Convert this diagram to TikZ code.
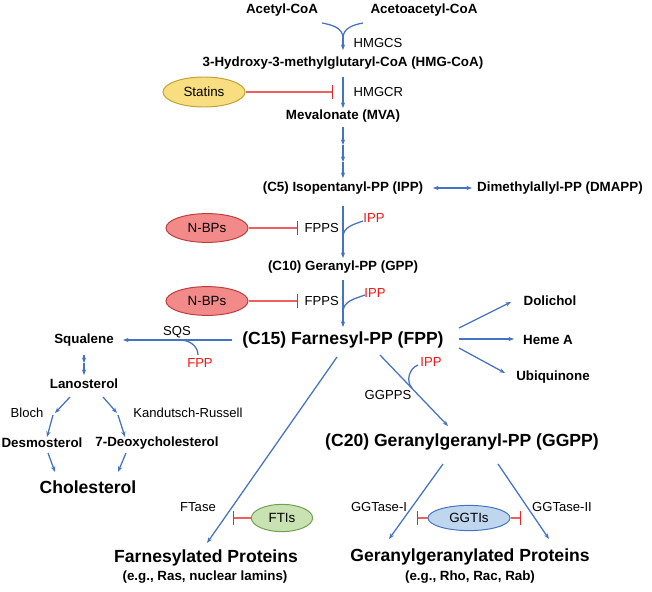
\documentclass[tikz,border=0pt]{standalone}
\usepackage{fontspec}
\setmainfont{Liberation Sans}
\usepackage{xcolor}
\usetikzlibrary{shapes.geometric}
\usetikzlibrary{positioning}
\usetikzlibrary{arrows.meta,calc}

\definecolor{flowblue}{RGB}{68,114,196}
\definecolor{inhred}{RGB}{238,96,96}
\definecolor{barred}{RGB}{232,40,40}
\definecolor{ippred}{RGB}{250,20,20}
\definecolor{statinfill}{RGB}{248,222,128}
\definecolor{statinline}{RGB}{196,160,50}
\definecolor{nbpfill}{RGB}{242,138,138}
\definecolor{nbpline}{RGB}{192,60,60}
\definecolor{ftifill}{RGB}{200,226,178}
\definecolor{ftiline}{RGB}{110,160,80}
\definecolor{ggtifill}{RGB}{190,215,238}
\definecolor{ggtiline}{RGB}{70,114,196}

\begin{document}
\begin{tikzpicture}[x=0.025cm,y=0.025cm,
    met/.style={font=\bfseries\fontsize{9.5}{11}\selectfont,inner sep=1pt},
    big/.style={font=\bfseries\fontsize{12.5}{15}\selectfont,inner sep=1pt},
    enzyme/.style={font=\fontsize{9.3}{11}\selectfont,inner sep=1pt},
    cofactor/.style={enzyme,text=ippred},
    drug/.style={ellipse,draw,inner sep=0pt,line width=0.7pt,font=\fontsize{9.5}{11}\selectfont},
    statin/.style={drug,fill=statinfill,draw=statinline,minimum width=2.05cm,minimum height=0.75cm},
    nbp/.style={drug,fill=nbpfill,draw=nbpline,minimum width=2.05cm,minimum height=0.72cm},
    fti/.style={drug,fill=ftifill,draw=ftiline,minimum width=1.53cm,minimum height=0.68cm},
    ggti/.style={drug,fill=ggtifill,draw=ggtiline,minimum width=2.05cm,minimum height=0.63cm},
    flow/.style={draw=flowblue,line width=0.9pt,-{Stealth[length=4pt,width=3pt]}},
    blueline/.style={draw=flowblue,line width=0.9pt},
    inhibit/.style={draw=inhred,line width=0.9pt,-{Bar[width=10pt,line width=0.9pt,color=barred]}},
]
\useasboundingbox (0,0) rectangle (652,-592);

% main chain
\node[met] (acetyl) at (282,-10) {Acetyl-CoA};
\node[met] (acac) at (424,-10) {Acetoacetyl-CoA};
\node[met] (hmg) at (343,-63) {3-Hydroxy-3-methylglutaryl-CoA (HMG-CoA)};
\node[met] (mva) at (343,-116) {Mevalonate (MVA)};
\node[met] (ipp) at (343,-188) {(C5) Isopentanyl-PP (IPP)};
\node[met] (dmapp) at (560,-188) {Dimethylallyl-PP (DMAPP)};
\node[met] (gpp) at (343,-267) {(C10) Geranyl-PP (GPP)};
\node[big] (fpp) at (343,-340) {(C15) Farnesyl-PP (FPP)};

% sterol branch
\node[met] (squalene) at (84,-340) {Squalene};
\node[met] (lano) at (84,-384) {Lanosterol};
\node[met] (desmo) at (42,-443) {Desmosterol};
\node[met] (deoxy) at (157,-443) {7-Deoxycholesterol};
\node[big] (chol) at (88,-487) {Cholesterol};

% other products
\node[met] (dol) at (550,-301) {Dolichol};
\node[met] (heme) at (548,-340) {Heme A};
\node[met] (ubi) at (553,-377) {Ubiquinone};
\node[big] (ggpp) at (462,-442) {(C20) Geranylgeranyl-PP (GGPP)};
\node[big] (fprot) at (206,-558) {Farnesylated Proteins};
\node[met] (fprotex) at (205,-577) {(e.g., Ras, nuclear lamins)};
\node[big] (ggprot) at (470,-557) {Geranylgeranylated Proteins};
\node[met] (ggprotex) at (470,-577) {(e.g., Rho, Rac, Rab)};

% enzymes and cofactors
\node[enzyme,anchor=west] (hmgcs) at (352,-43) {HMGCS};
\node[enzyme,anchor=west] (hmgcr) at (352,-92) {HMGCR};
\node[enzyme,anchor=west] (fpps1) at (303,-228) {FPPS};
\node[enzyme,anchor=west] (fpps2) at (303,-301) {FPPS};
\node[cofactor] (ipp1) at (374,-218) {IPP};
\node[cofactor] (ipp2) at (375,-293) {IPP};
\node[cofactor] (ipp3) at (431,-362) {IPP};
\node[enzyme] (ggpps) at (388,-395) {GGPPS};
\node[enzyme] (sqs) at (177,-332) {SQS};
\node[cofactor] (fppsqs) at (200,-363) {FPP};
\node[enzyme] (bloch) at (27,-413) {Bloch};
\node[enzyme] (kr) at (188,-413) {Kandutsch-Russell};
\node[enzyme] (ftase) at (198,-507) {FTase};
\node[enzyme] (ggtase1) at (379,-507) {GGTase-I};
\node[enzyme] (ggtase2) at (562,-507) {GGTase-II};

% inhibitors
\node[statin] (statins) at (204,-92) {Statins};
\node[nbp] (nbps1) at (207,-228) {N-BPs};
\node[nbp] (nbps2) at (207,-301) {N-BPs};
\node[fti] (ftis) at (282,-518) {FTIs};
\node[ggti] (ggtis) at (469,-518) {GGTIs};

% HMG-CoA synthesis
\coordinate (hmgjoin) at ($(hmg)+(0,25)$);
\draw[blueline] ($(acetyl)+(40,-13)$) to[out=-10,in=90] (hmgjoin);
\draw[blueline] ($(acac)+(-61,-13)$) to[out=190,in=90] (hmgjoin);
\draw[flow] (hmgjoin) -- ($(hmg)+(0,13)$);
\draw[flow] ($(hmg)+(0,-14)$) -- ($(mva)+(0,8)$);

% several steps to IPP
\coordinate (mvastep1) at ($(mva)+(0,-29)$);
\coordinate (mvastep2) at ($(mva)+(0,-46)$);
\draw[flow] ($(mva)+(0,-11)$) -- (mvastep1);
\draw[flow] (mvastep1) -- (mvastep2);
\draw[flow] (mvastep2) -- ($(ipp)+(0,10)$);
\draw[flow,{Stealth[length=4pt,width=3pt]}-{Stealth[length=4pt,width=3pt]}] ($(ipp)+(90,0)$) -- ($(dmapp)+(-88,0)$);

% IPP -> GPP -> FPP
\draw[flow] ($(ipp)+(0,-18)$) -- ($(gpp)+(0,9)$);
\draw[blueline] ($(ipp1)+(-11,-3)$) to[out=200,in=90] ($(gpp)+(0,30)$);
\draw[flow] ($(gpp)+(0,-13)$) -- ($(fpp)+(0,13)$);
\draw[blueline] ($(ipp2)+(-10,-2)$) to[out=200,in=90] ($(fpp)+(0,28)$);

% sterols
\draw[flow] ($(fpp)+(-111,0)$) -- ($(squalene)+(39,0)$);
\draw[blueline] ($(fppsqs)+(-2,8)$) to[out=90,in=0] ($(squalene)+(96,0)$);
\coordinate (sqstep) at ($(lano)+(0,21)$);
\draw[flow] ($(squalene)+(0,-15)$) -- (sqstep);
\draw[flow] (sqstep) -- ($(lano)+(0,9)$);
\draw[flow] ($(lano)+(-14,-13)$) -- ($(lano)+(-29,-29)$);
\draw[flow] ($(lano)+(-31,-31)$) -- ($(desmo)+(5,6)$);
\draw[flow] ($(lano)+(19,-13)$) -- ($(lano)+(33,-29)$);
\draw[flow] ($(lano)+(34,-31)$) -- ($(deoxy)+(-32,6)$);
\draw[flow] ($(desmo)+(6,-10)$) -- ($(chol)+(-33,15)$);
\draw[flow] ($(deoxy)+(-31,-10)$) -- ($(chol)+(30,15)$);

% non-sterol products
\draw[flow] ($(fpp)+(116,12)$) -- ($(dol)+(-39,-1)$);
\draw[flow] ($(fpp)+(116,1)$) -- ($(heme)+(-34,1)$);
\draw[flow] ($(fpp)+(116,-8)$) -- ($(ubi)+(-48,4)$);
\draw[flow] ($(fpp)+(37,-15)$) -- ($(ggpp)+(-14,16)$);
\draw[blueline] ($(ipp3)+(-13,-3)$) to[out=200,in=134] ($(fpp)+(69,-48)$);

% prenylation
\draw[flow] ($(fpp)+(-6,-17)$) -- ($(fprot)+(1,15)$);
\draw[flow] ($(ggpp)+(-19,-22)$) -- ($(ggprot)+(-81,18)$);
\draw[flow] ($(ggpp)+(36,-22)$) -- ($(ggprot)+(79,18)$);

% inhibition
\draw[inhibit] (statins) -- ($(hmgcr.west)+(-19,0)$);
\draw[inhibit] (nbps1) -- ($(fpps1.west)+(-5,0)$);
\draw[inhibit] (nbps2) -- ($(fpps2.west)+(-5,0)$);
\draw[inhibit] (ftis) -- ($(ftis)+(-49,0)$);
\draw[inhibit] (ggtis) -- ($(ggtis)+(-52,0)$);
\draw[inhibit] (ggtis) -- ($(ggtis)+(52,0)$);
\end{tikzpicture}
\end{document}
